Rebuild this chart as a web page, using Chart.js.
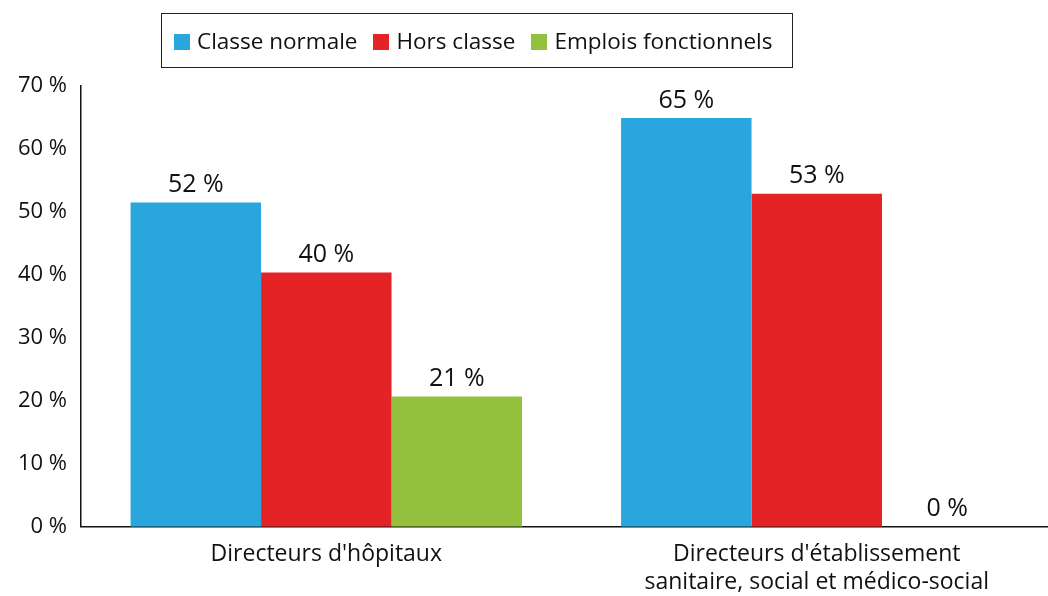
<!DOCTYPE html>
<html>
<head>
<meta charset="utf-8">
<script src="https://cdn.jsdelivr.net/npm/chart.js@4"></script>
<style>
  html, body { margin:0; background:#fff; font-family:"Open Sans", sans-serif; overflow:hidden; }
  #wrap { position:relative; width:1048px; height:596px; overflow:hidden; }
  #legende { position:absolute; left:161px; top:13px; border:1.5px solid #222;
             display:flex; align-items:center; padding-left:12px; box-sizing:border-box; width:632px; height:55px;
             gap:16px; font-size:22.5px; color:#111; }
  #legende span.c { display:inline-block; width:16px; height:16px; margin-right:7px; vertical-align:-1px; }
</style>
</head>
<body>
<div id="wrap">
  <canvas id="chart" width="1062" height="610"></canvas>
  <div id="legende"></div>
</div>
<script>
const categories = [['Directeurs d\'hôpitaux'], ['Directeurs d\'établissement', 'sanitaire, social et médico-social']];
const series = ['Classe normale', 'Hors classe', 'Emplois fonctionnels'];
const classeNormale = [51.5, 64.9];
const horsClasse = [40.4, 52.9];
const emploisFonctionnels = [20.7, 0];
const etiquettes = [['52 %', '65 %'], ['40 %', '53 %'], ['21 %', '0 %']];
const couleurs = ['#29a6de', '#e32326', '#94c13d'];
const ticksY = [0, 10, 20, 30, 40, 50, 60, 70];

const legende = document.getElementById('legende');
series.forEach((s, i) => legende.innerHTML += `<div><span class="c" style="background:${couleurs[i]}"></span>${s}</div>`);

const etiquettesPlugin = {
  id: 'etiquettes',
  afterDatasetsDraw(chart) {
    const ctx = chart.ctx;
    ctx.save();
    ctx.font = '25px "Open Sans"';
    ctx.fillStyle = '#111';
    ctx.textAlign = 'center';
    ctx.textBaseline = 'bottom';
    chart.data.datasets.forEach((d, i) => {
      chart.getDatasetMeta(i).data.forEach((el, j) => {
        ctx.fillText(etiquettes[i][j], el.x, el.y - 5);
      });
    });
    ctx.restore();
  }
};

const ctx = document.getElementById('chart').getContext('2d');
new Chart(ctx, {
  type: 'bar',
  data: {
    labels: categories,
    datasets: [
      { label: series[0], data: classeNormale, backgroundColor: couleurs[0] },
      { label: series[1], data: horsClasse, backgroundColor: couleurs[1] },
      { label: series[2], data: emploisFonctionnels, backgroundColor: couleurs[2] }
    ]
  },
  options: {
    responsive: false,
    animation: false,
    layout: { padding: { top: 86, left: 4, right: 0, bottom: 0 } },
    plugins: { legend: { display: false }, tooltip: { enabled: false } },
    datasets: { bar: { barPercentage: 1, categoryPercentage: 0.798 } },
    scales: {
      x: {
        grid: { display: false, drawTicks: false },
        border: { color: '#111', width: 1.5 },
        ticks: { color: '#111', font: { family: 'Open Sans', size: 23, lineHeight: 1.2 }, padding: 14 }
      },
      y: {
        min: 0, max: 70,
        afterBuildTicks: axis => { axis.ticks = ticksY.map(v => ({ value: v })); },
        grid: { display: false, drawTicks: false },
        border: { color: '#111', width: 1.5 },
        ticks: { color: '#111', font: { family: 'Open Sans', size: 22 }, padding: 14,
                 callback: v => v + ' %' }
      }
    }
  },
  plugins: [etiquettesPlugin]
});
</script>
</body>
</html>
